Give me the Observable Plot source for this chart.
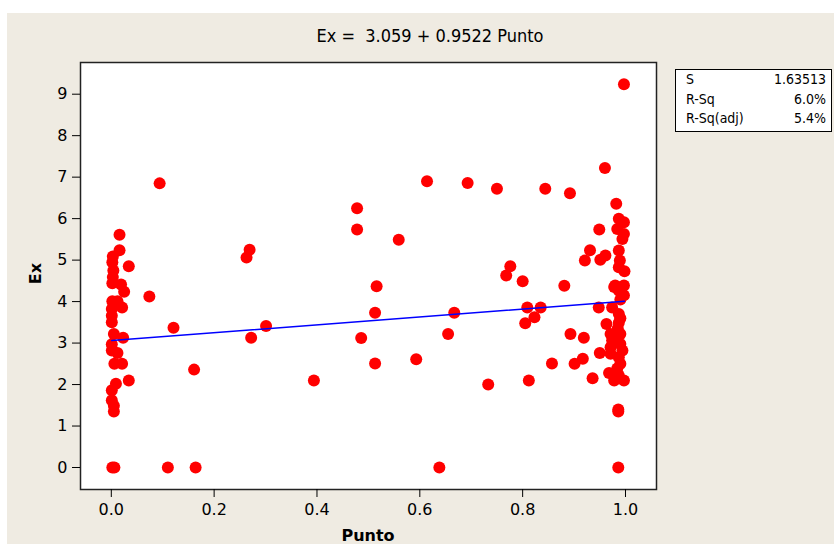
<!DOCTYPE html>
<html>
<head>
<meta charset="utf-8">
<script src="https://cdn.jsdelivr.net/npm/d3@7"></script>
<script src="https://cdn.jsdelivr.net/npm/@observablehq/plot@0.6"></script>
<style>
  html, body { margin: 0; padding: 0; background: #ffffff; }
  #page { position: relative; width: 834px; height: 544px; overflow: hidden; }
  #bg { position: absolute; left: 7px; top: 13px; width: 827px; height: 531px; background: #efebe2; }
  #chart { position: absolute; left: 0; top: 0; }
  #title { position: absolute; left: 230px; width: 400px; top: 25px; text-align: center;
           font-family: "DejaVu Sans Condensed", "DejaVu Sans", sans-serif; font-size: 18px; color: #000; white-space: pre; }
  .axlab { position: absolute; font-family: "DejaVu Sans", sans-serif; font-weight: bold; font-size: 16px; color: #000; }
  #xlab { left: 268px; width: 200px; top: 526px; text-align: center; }
  #ylab { left: 15px; top: 264px; width: 40px; text-align: center; transform: rotate(-90deg); }
  #legend { position: absolute; left: 675px; top: 69px; width: 155px; height: 61px; background: #fff;
            border: 1px solid #000; font-family: "DejaVu Sans Condensed", "DejaVu Sans", sans-serif; font-size: 14px; color: #000; }
  #legend .row { position: absolute; left: 10px; right: 5px; height: 18px; }
  #legend .row span.v { position: absolute; right: 0; }
</style>
</head>
<body>
<div id="page">
  <div id="bg"></div>
  <div id="chart"></div>
  <div id="title"></div>
  <div id="xlab" class="axlab"></div>
  <div id="ylab" class="axlab"></div>
  <div id="legend"></div>
</div>
<script>
// ---- data ----
const punto = [
  0.094,0.016,0.016,0.003,0.002,0.034,0.004,0.003,0.002,0.019,0.025,0.074,0.002,0.012,0.021,0.001,0.001,0.001,0.121,0.005,
  0.023,0.001,0.001,0.012,0.006,0.021,0.161,0.034,0.009,0.001,0.001,0.005,0.005,0.002,0.006,0.110,0.164,0.263,0.269,0.301,0.272,
  0.614,0.693,0.478,0.478,0.559,0.516,0.513,0.667,0.655,0.486,0.513,0.593,0.394,0.638,
  0.997,0.960,0.750,0.844,0.892,0.982,0.776,0.768,0.800,0.881,0.809,0.835,0.823,0.805,0.893,0.919,0.857,0.901,0.917,0.733,
  0.812,0.936,0.986,0.986,0.986,0.948,0.949,0.931,0.921,0.951,0.961,0.963,0.950,
  0.987,0.997,0.984,0.997,0.994,0.987,0.989,0.987,0.998,0.980,0.997,0.978,0.987,0.997,0.974,0.987,0.987,0.971,0.990,0.974,
  0.990,0.971,0.994,0.971,0.987,0.984,0.968,0.987,0.978,0.997,0.990,0.990,0.985,0.990
];
const ex = [
  6.85,5.61,5.24,5.09,4.95,4.85,4.75,4.59,4.44,4.41,4.24,4.12,4.01,4.01,3.86,3.82,3.66,3.50,3.37,3.22,
  3.13,2.97,2.82,2.76,2.50,2.50,2.36,2.10,2.02,1.86,1.62,1.49,1.35,0,0,0,0,5.06,5.25,3.41,3.13,
  6.90,6.86,6.25,5.74,5.49,4.37,3.73,3.73,3.22,3.12,2.51,2.61,2.10,0,
  9.24,7.22,6.72,6.72,6.61,6.36,4.85,4.63,4.49,4.38,3.86,3.86,3.62,3.48,3.22,3.13,2.51,2.50,2.62,2.00,
  2.10,2.15,1.40,1.35,0,3.86,5.74,5.24,4.99,5.01,5.11,3.46,2.76,
  6.00,5.91,5.75,5.63,5.51,5.23,4.99,4.83,4.73,4.39,4.39,4.35,4.27,4.15,3.86,3.70,3.49,3.22,3.22,3.06,
  2.98,2.90,2.82,2.74,2.66,2.39,2.28,2.22,2.10,2.10,4.05,3.60,3.35,2.50
];
const intercept = 3.059;
const slope = 0.9522;
const titleText = "Ex =  3.059 + 0.9522 Punto";
const xLabel = "Punto";
const yLabel = "Ex";
const xTicks = [0, 0.2, 0.4, 0.6, 0.8, 1.0];
const yTicks = [0, 1, 2, 3, 4, 5, 6, 7, 8, 9];
const statNames = ["S", "R-Sq", "R-Sq(adj)"];
const statValues = ["1.63513", "6.0%", "5.4%"];

// ---- build ----
const data = punto.map((p, i) => ({Punto: p, Ex: ex[i]}));
const xMin = d3.min(punto), xMax = d3.max(punto);
const fit = [xMin, xMax].map(p => ({Punto: p, Ex: intercept + slope * p}));

const chart = Plot.plot({
  width: 834,
  height: 544,
  marginLeft: 80,
  marginRight: 178,
  marginTop: 62,
  marginBottom: 55,
  style: {fontFamily: "'DejaVu Sans', sans-serif", fontSize: "16px", background: "transparent", color: "#000", overflow: "visible"},
  x: {domain: [-0.0599, 1.0603]},
  y: {domain: [-0.53, 9.764]},
  marks: [
    Plot.frame({fill: "white", stroke: null}),
    Plot.dot(data, {x: "Punto", y: "Ex", r: 6, fill: "#ff0000", stroke: null}),
    Plot.line(fit, {x: "Punto", y: "Ex", stroke: "#0000ff", strokeWidth: 1.5}),
    Plot.frame({stroke: "#222", strokeWidth: 1.5}),
    Plot.axisX({ticks: xTicks, tickFormat: d3.format(".1f"), tickSize: 8, tickPadding: 6, label: null, stroke: "#000", fontSize: 16}),
    Plot.axisY({ticks: yTicks, tickFormat: d3.format("d"), tickSize: 8, tickPadding: 5, label: null, stroke: "#000", fontSize: 16})
  ]
});
document.getElementById("chart").appendChild(chart);
document.getElementById("title").textContent = titleText;
document.getElementById("xlab").textContent = xLabel;
document.getElementById("ylab").textContent = yLabel;
const leg = document.getElementById("legend");
statNames.forEach((n, i) => {
  const row = document.createElement("div");
  row.className = "row";
  row.style.top = (1 + i * 19.5) + "px";
  const a = document.createElement("span"); a.textContent = n;
  const b = document.createElement("span"); b.className = "v"; b.textContent = statValues[i];
  row.appendChild(a); row.appendChild(b);
  leg.appendChild(row);
});
</script>
</body>
</html>
